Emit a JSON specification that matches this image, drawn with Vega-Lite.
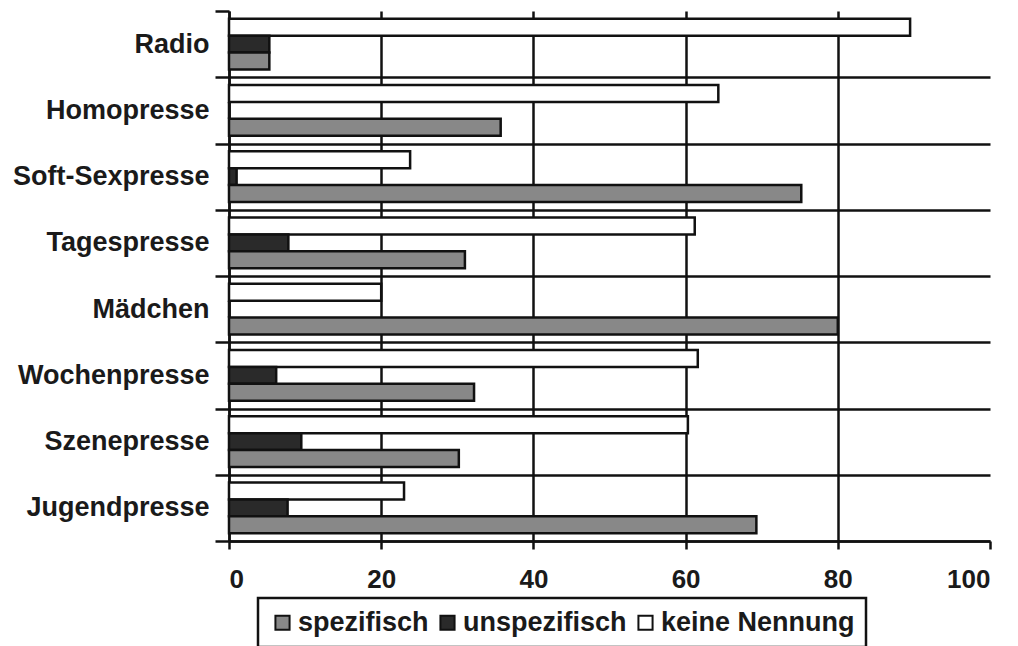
{
  "$schema": "https://vega.github.io/schema/vega-lite/v6.json",
  "width": 761,
  "height": 530,
  "autosize": {"type": "none"},
  "padding": {"left": 229, "top": 11, "right": 28, "bottom": 105},
  "background": "white",
  "config": {
    "view": {"stroke": null},
    "font": "Liberation Sans",
    "legend": {"strokeWidth": 2.5}
  },
  "data": {
    "values": [
      {"medium": "Radio", "kategorie": "keine Nennung", "anteil": 89.5},
      {"medium": "Radio", "kategorie": "unspezifisch", "anteil": 5.3},
      {"medium": "Radio", "kategorie": "spezifisch", "anteil": 5.3},
      {"medium": "Homopresse", "kategorie": "keine Nennung", "anteil": 64.3},
      {"medium": "Homopresse", "kategorie": "unspezifisch", "anteil": 0},
      {"medium": "Homopresse", "kategorie": "spezifisch", "anteil": 35.7},
      {"medium": "Soft-Sexpresse", "kategorie": "keine Nennung", "anteil": 23.8},
      {"medium": "Soft-Sexpresse", "kategorie": "unspezifisch", "anteil": 1.0},
      {"medium": "Soft-Sexpresse", "kategorie": "spezifisch", "anteil": 75.2},
      {"medium": "Tagespresse", "kategorie": "keine Nennung", "anteil": 61.2},
      {"medium": "Tagespresse", "kategorie": "unspezifisch", "anteil": 7.8},
      {"medium": "Tagespresse", "kategorie": "spezifisch", "anteil": 31.0},
      {"medium": "Mädchen", "kategorie": "keine Nennung", "anteil": 20.0},
      {"medium": "Mädchen", "kategorie": "unspezifisch", "anteil": 0},
      {"medium": "Mädchen", "kategorie": "spezifisch", "anteil": 80.0},
      {"medium": "Wochenpresse", "kategorie": "keine Nennung", "anteil": 61.6},
      {"medium": "Wochenpresse", "kategorie": "unspezifisch", "anteil": 6.2},
      {"medium": "Wochenpresse", "kategorie": "spezifisch", "anteil": 32.2},
      {"medium": "Szenepresse", "kategorie": "keine Nennung", "anteil": 60.3},
      {"medium": "Szenepresse", "kategorie": "unspezifisch", "anteil": 9.5},
      {"medium": "Szenepresse", "kategorie": "spezifisch", "anteil": 30.2},
      {"medium": "Jugendpresse", "kategorie": "keine Nennung", "anteil": 23.0},
      {"medium": "Jugendpresse", "kategorie": "unspezifisch", "anteil": 7.7},
      {"medium": "Jugendpresse", "kategorie": "spezifisch", "anteil": 69.3}
    ]
  },
  "mark": {"type": "bar", "stroke": "#111", "strokeWidth": 2.5},
  "encoding": {
    "y": {
      "field": "medium",
      "type": "nominal",
      "sort": ["Radio", "Homopresse", "Soft-Sexpresse", "Tagespresse", "Mädchen", "Wochenpresse", "Szenepresse", "Jugendpresse"],
      "scale": {"paddingInner": 0, "paddingOuter": 0},
      "axis": {
        "title": null,
        "tickBand": "extent",
        "grid": true,
        "gridColor": {"condition": {"test": "datum.extra", "value": "transparent"}, "value": "#111"},
        "gridWidth": 2.5,
        "domainColor": "#111",
        "domainWidth": 2.5,
        "tickColor": "#111",
        "tickWidth": 2.5,
        "tickSize": 14,
        "labelFont": "Liberation Sans",
        "labelFontSize": 27,
        "labelFontWeight": "bold",
        "labelColor": "#1a1a1a",
        "labelPadding": 6,
        "labelLimit": 400
      }
    },
    "yOffset": {
      "field": "kategorie",
      "sort": ["keine Nennung", "unspezifisch", "spezifisch"],
      "scale": {"paddingInner": 0, "paddingOuter": 0.45}
    },
    "x": {
      "field": "anteil",
      "type": "quantitative",
      "scale": {"domain": [0, 100], "nice": false},
      "axis": {
        "title": null,
        "values": [0, 20, 40, 60, 80, 100],
        "grid": true,
        "gridColor": {"condition": {"test": "datum.value === 100", "value": "transparent"}, "value": "#111"},
        "gridWidth": 2.5,
        "domainColor": "#111",
        "domainWidth": 2.5,
        "tickColor": "#111",
        "tickWidth": 2.5,
        "tickSize": 8,
        "labelFont": "Liberation Sans",
        "labelFontSize": 26,
        "labelFontWeight": "bold",
        "labelColor": "#1a1a1a",
        "labelPadding": 17
      }
    },
    "color": {
      "field": "kategorie",
      "type": "nominal",
      "scale": {
        "domain": ["spezifisch", "unspezifisch", "keine Nennung"],
        "range": ["#888888", "#2a2a2a", "#ffffff"]
      },
      "legend": {
        "title": null,
        "orient": "none",
        "legendX": 29,
        "legendY": 587,
        "direction": "horizontal",
        "strokeColor": "#111",
        "padding": 11,
        "symbolType": "square",
        "symbolSize": 200,
        "symbolStrokeColor": "#111",
        "symbolStrokeWidth": 2,
        "symbolOpacity": 1,
        "labelFont": "Liberation Sans",
        "labelFontSize": 27,
        "labelFontWeight": "bold",
        "labelColor": "#1a1a1a",
        "labelOffset": 2,
        "columnPadding": 5,
        "labelLimit": 400
      }
    }
  }
}
